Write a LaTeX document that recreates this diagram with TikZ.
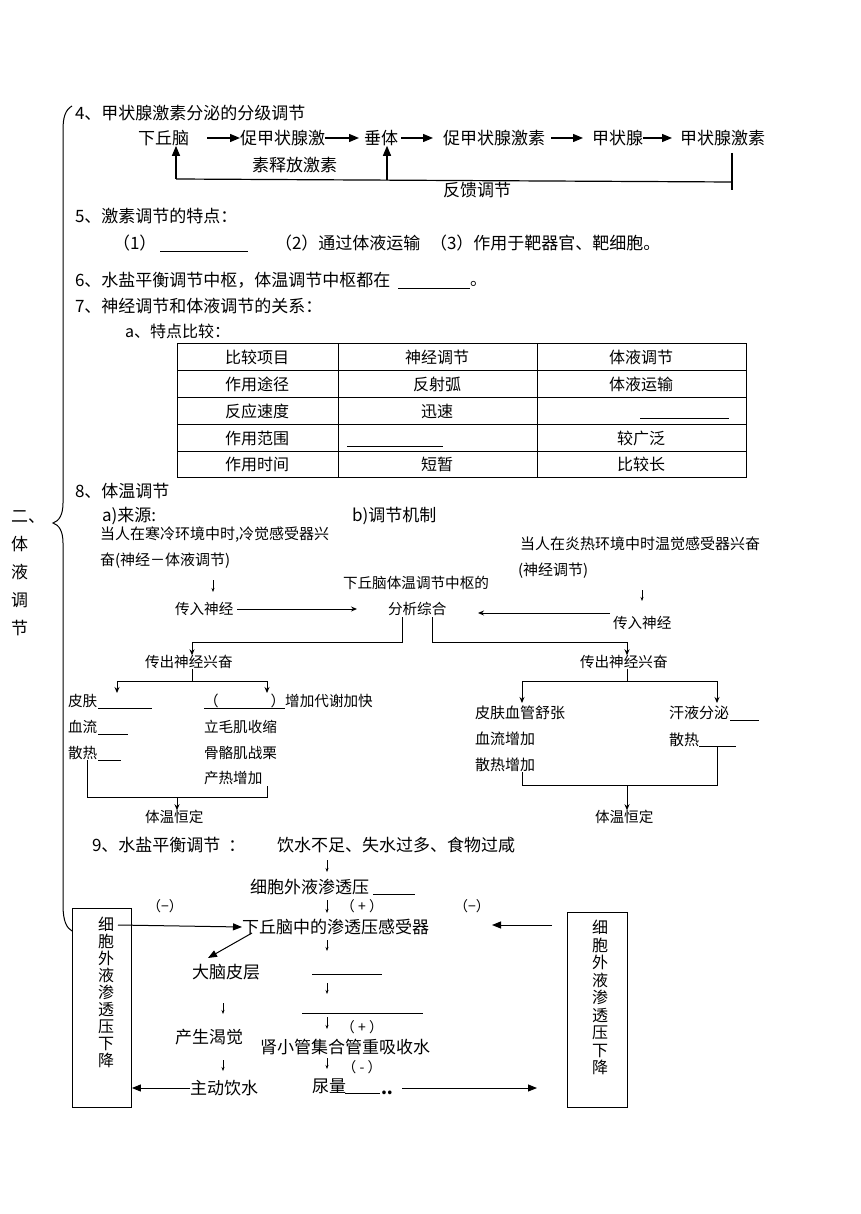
\documentclass[tikz,border=0pt]{standalone}
\usepackage{fontspec}
\setmainfont{Noto Sans CJK SC}
\usetikzlibrary{arrows.meta,calc}
\tikzset{
 base/.style={inner sep=0pt, outer sep=0pt, anchor=west},
 tl/.style={base, font=\fontsize{17}{17}\selectfont},
 tm/.style={base, font=\fontsize{16}{16}\selectfont},
 tsm/.style={base, font=\fontsize{15}{15}\selectfont},
 ts/.style={base, font=\fontsize{14.6}{15}\selectfont},
 tpm/.style={inner sep=0pt, font=\fontsize{14}{14}\selectfont},
 tc/.style={inner sep=0pt, font=\fontsize{16}{16}\selectfont},
 bigarr/.style={-{Triangle[length=10pt,width=8pt]}, line width=1.3pt},
 midarr/.style={-{Triangle[length=9pt,width=7pt]}, line width=1pt},
 smlarr/.style={-{Stealth[length=6pt,width=5pt]}, line width=0.9pt},
 tinyarr/.style={-{Stealth[length=4pt,width=3pt]}, line width=0.6pt},
 ln/.style={line width=0.8pt},
 vt/.style={inner sep=0pt, align=center, anchor=north},
 boxn/.style={draw, line width=0.9pt, inner sep=0pt, anchor=north west},
}
\begin{document}
\begin{tikzpicture}[x=1pt,y=-1pt]
\useasboundingbox (0,0) rectangle (860,1214);
% brace and side label
\draw[line width=1pt] (72,106) .. controls (65,110) and (63,118) .. (63,130) -- (63,503) .. controls (63,515) and (59,521) .. (53,523) .. controls (59,525) and (63,531) .. (63,543) -- (63,905) .. controls (63,922) and (67,928) .. (72,931);
\node[tl, align=left, font=\fontsize{17}{28}\selectfont, anchor=north west] (side) at (11,511) {二、\\体\\液\\调\\节};

% section 4
\node[tl] (h4) at (75,113) {4、甲状腺激素分泌的分级调节};
\node[tl] (hyp) at (138,138) {下丘脑};
\node[tl] (trh1) at (240,138) {促甲状腺激};
\node[tl] (trh2) at (252,165) {素释放激素};
\node[tl] (pit) at (364,138) {垂体};
\node[tl] (tsh) at (443,138) {促甲状腺激素};
\node[tl] (thy) at (592,138) {甲状腺};
\node[tl] (th) at (680,138) {甲状腺激素};
\node[tl] (fb) at (443,190) {反馈调节};
\draw[bigarr] (207,138) -- (trh1.west);
\draw[bigarr] (trh1.east) -- ([xshift=-5pt]pit.west);
\draw[bigarr] ([xshift=3pt]pit.east) -- ([xshift=-10pt]tsh.west);
\draw[bigarr] ([xshift=6pt]tsh.east) -- ([xshift=-9pt]thy.west);
\draw[bigarr] (thy.east) -- ([xshift=-8pt]th.west);
\coordinate (fbR) at (732,182);
\coordinate (fbL) at (176,179);
\coordinate (fbM) at (387,180);
\draw[line width=1.2pt] (732,153) -- (732,190);
\draw[line width=1.2pt] (fbR) -- (fbL);
\draw[bigarr] (fbL) -- (fbL |- hyp.south);
\draw[bigarr] (fbM) -- (fbM |- pit.south);

% section 5
\node[tl] (h5) at (75,216) {5、激素调节的特点：};
\node[tl] (p1) at (113,243) {（1）};
\draw[ln] (160,251) -- (248,251);
\node[tl] (p2) at (275,243) {（2）通过体液运输};
\node[tl] (p3) at (430,243) {（3）作用于靶器官、靶细胞。};

% section 6, 7
\node[tl] (h6) at (75,280) {6、水盐平衡调节中枢，体温调节中枢都在};
\draw[ln] (398,288) -- (470,288);
\node[tl, anchor=base west] (h6e) at (470,286) {。};
\node[tl] (h7) at (75,306) {7、神经调节和体液调节的关系：};
\node[tm] (h7a) at (125,331) {a、特点比较：};

% table
\draw[ln] (177,343) rectangle (746,477);
\foreach \yy in {370,397,424,451} \draw[ln] (177,\yy) -- (746,\yy);
\draw[ln] (338,343) -- (338,477);
\draw[ln] (537,343) -- (537,477);
\node[tc] (c11) at (257,357) {比较项目};
\node[tc] (c12) at (437,357) {神经调节};
\node[tc] (c13) at (641,357) {体液调节};
\node[tc] (c21) at (257,384) {作用途径};
\node[tc] (c22) at (437,384) {反射弧};
\node[tc] (c23) at (641,384) {体液运输};
\node[tc] (c31) at (257,411) {反应速度};
\node[tc] (c32) at (437,411) {迅速};
\draw[ln] (640,418) -- (729,418);
\node[tc] (c41) at (257,438) {作用范围};
\draw[ln] (347,446) -- (443,446);
\node[tc] (c43) at (641,438) {较广泛};
\node[tc] (c51) at (257,464) {作用时间};
\node[tc] (c52) at (437,464) {短暂};
\node[tc] (c53) at (641,464) {比较长};

% section 8
\node[tl] (h8) at (75,491) {8、体温调节};
\node[tl] (a8) at (102,516) {a)来源:};
\node[tl] (b8) at (352,516) {b)调节机制};
\node[tsm] (cold1) at (100,535) {当人在寒冷环境中时,冷觉感受器兴};
\node[tsm] (cold2) at (100,561) {奋(神经－体液调节)};
\draw[tinyarr] (213,580) -- (213,592);
\node[ts] (in1) at (175,609) {传入神经};
\node[ts] (cen1) at (343,583) {下丘脑体温调节中枢的};
\node[ts] (cen2) at (388,609) {分析综合};
\draw[smlarr] ([xshift=4pt]in1.east) -- ([xshift=-31pt]cen2.west);
\node[tsm] (hot1) at (520,544) {当人在炎热环境中时温觉感受器兴奋};
\node[tsm] (hot2) at (518,571) {(神经调节)};
\draw[tinyarr] (642,590) -- (642,601);
\node[ts] (in2) at (613,623) {传入神经};
\draw[smlarr] (610,613) -- (478,613);
\node[ts] (out1) at (145,662) {传出神经兴奋};
\node[ts] (out2) at (580,662) {传出神经兴奋};
\coordinate (o1) at (192,642);
\coordinate (o2) at (627,642);
\draw[smlarr] (402,617) -- (402,642) -- (o1) -- (o1 |- out1.north);
\draw[smlarr] (432,617) -- (432,642) -- (o2) -- (o2 |- out2.north);
% left tree
\draw[ln] (o1 |- out1.south) -- (192,681);
\draw[smlarr] (192,681) -| (117,693);
\draw[smlarr] (192,681) -| (267,693);
\node[ts] (skin) at (68,701) {皮肤};
\draw[ln] (98,708) -- (152,708);
\node[ts] (meta) at (204,701) {（\hspace{52pt}）增加代谢加快};
\draw[ln] (204,708) -- (285,708);
\node[ts] (blood) at (68,727) {血流};
\draw[ln] (98,734) -- (128,734);
\node[ts] (pil) at (204,727) {立毛肌收缩};
\node[ts] (heat) at (68,753) {散热};
\draw[ln] (98,760) -- (121,760);
\node[ts] (shiv) at (204,753) {骨骼肌战栗};
\node[ts] (prod) at (204,778) {产热增加};
\draw[ln] (87,760) -- (87,797) -- (267,797) -- (267,786);
\node[ts] (const1) at (145,817) {体温恒定};
\coordinate (k1) at (177,797);
\draw[smlarr] (k1) -- (k1 |- const1.north);
% right tree
\draw[ln] (o2 |- out2.south) -- (627,681);
\draw[smlarr] (627,681) -| (522,703);
\draw[smlarr] (627,681) -| (717,703);
\node[tsm] (dil) at (475,713) {皮肤血管舒张};
\node[tsm] (bfi) at (475,739) {血流增加};
\node[tsm] (hli) at (475,765) {散热增加};
\node[tsm] (sweat) at (669,713) {汗液分泌};
\draw[ln] (730,720) -- (759,720);
\node[tsm] (hl2) at (669,740) {散热};
\draw[ln] (699,746) -- (736,746);
\draw[ln] (522,772) -- (522,785) -- (717,785) -- (717,746);
\node[ts] (const2) at (595,817) {体温恒定};
\coordinate (k2) at (627,785);
\draw[smlarr] (k2) -- (k2 |- const2.north);

% section 9
\node[tl] (h9) at (92,845) {9、水盐平衡调节\hspace{8pt}：};
\node[tl] (cause) at (277,845) {饮水不足、失水过多、食物过咸};
\draw[tinyarr] (327,860) -- (327,872);
\node[tl] (ecf) at (250,887) {细胞外液渗透压};
\draw[ln] (373,894) -- (415,894);
\node[tpm] (m1) at (165,906) {（−）};
\draw[tinyarr] (327,900) -- (327,913);
\node[tpm] (p1s) at (362,906) {（ + ）};
\node[tpm] (m2) at (472,906) {（−）};
\node[tl] (osm) at (242,927) {下丘脑中的渗透压感受器};
\node[boxn, minimum width=59pt, minimum height=199pt] (lbox) at (72,908) {};
\node[vt, font=\fontsize{16}{17}\selectfont] (lvt) at (106,917) {细\\胞\\外\\液\\渗\\透\\压\\下\\降};
\node[boxn, minimum width=60pt, minimum height=195pt] (rbox) at (567,912) {};
\node[vt, font=\fontsize{16}{17.5}\selectfont] (rvt) at (600,920) {细\\胞\\外\\液\\渗\\透\\压\\下\\降};
\draw[midarr] (118,925) -- (osm.west);
\draw[midarr] (552,925) -- (492,925);
\node[tl] (cortex) at (192,972) {大脑皮层};
\draw[midarr] (252,933) -- (208,958);
\draw[tinyarr] (327,940) -- (327,951);
\draw[ln] (312,974) -- (382,974);
\draw[tinyarr] (327,983) -- (327,994);
\draw[tinyarr] (223,1003) -- (223,1014);
\draw[ln] (302,1013) -- (423,1013);
\draw[tinyarr] (327,1017) -- (327,1029);
\node[tpm] (p2s) at (362,1027) {（ + ）};
\node[tl] (thirst) at (175,1037) {产生渴觉};
\node[tl] (reabs) at (260,1047) {肾小管集合管重吸收水};
\draw[tinyarr] (327,1058) -- (327,1069);
\node[tpm] (m3) at (362,1067) {（ - ）};
\draw[tinyarr] (223,1060) -- (223,1071);
\node[tl] (drink) at (190,1088) {主动饮水};
\draw[midarr] (drink.west) -- (drink.west -| lbox.east);
\node[tl] (urine) at (312,1086) {尿量};
\draw[ln] (345,1093) -- (380,1093);
\node[tl, anchor=base west, font=\bfseries\fontsize{17}{17}\selectfont] (dots) at (381,1094) {..};
\draw[midarr] (402,1088) -- (537,1088);
\end{tikzpicture}
\end{document}
